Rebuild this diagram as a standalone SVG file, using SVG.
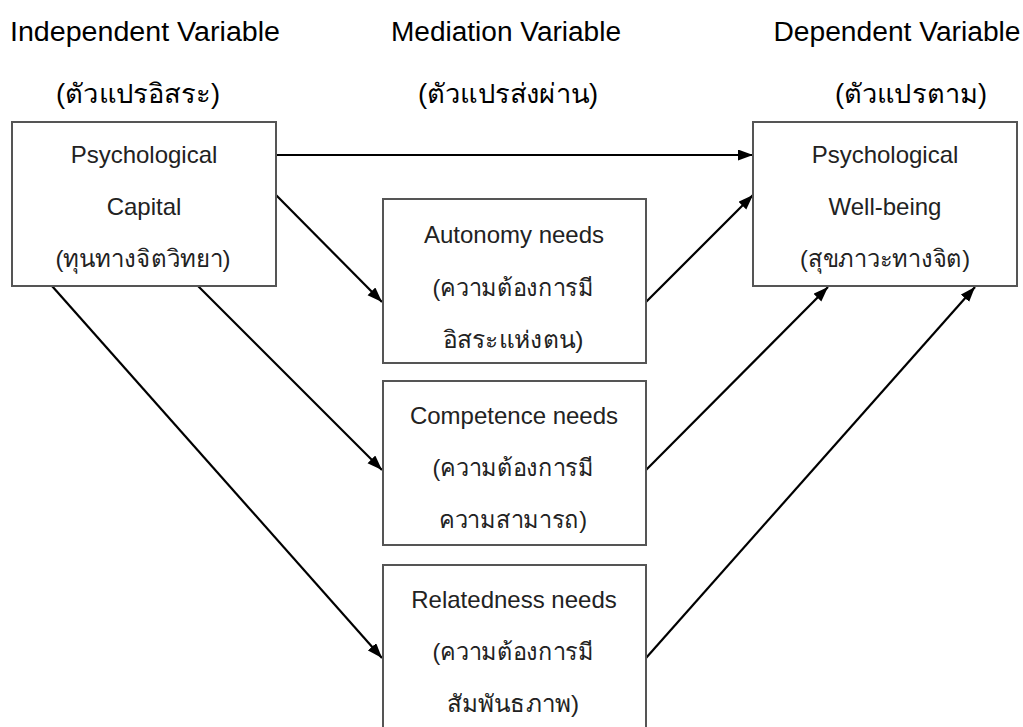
<svg xmlns="http://www.w3.org/2000/svg" width="1023" height="727" viewBox="0 0 1023 727">
<style>
.box{fill:#fff;stroke:#555;stroke-width:2}
.hd{font-family:"Liberation Sans","Noto Sans",sans-serif;font-size:27px;fill:#000;text-anchor:middle}
.bt{font-family:"Liberation Sans","Noto Sans",sans-serif;font-size:24px;fill:#222;text-anchor:middle}
.ln{stroke:#000;stroke-width:2.2;fill:none;marker-end:url(#ah)}
</style>
<defs>
<marker id="ah" markerUnits="userSpaceOnUse" markerWidth="16" markerHeight="12" refX="15" refY="5.5" orient="auto">
<path d="M0,0 L15,5.5 L0,11 Z" fill="#000"/>
</marker>
</defs>
<rect width="1023" height="727" fill="#fff"/>
<g id="headers">
<text class="hd" x="145" y="41" textLength="270" lengthAdjust="spacingAndGlyphs">Independent Variable</text>
<text class="hd" x="138" y="103" textLength="164" lengthAdjust="spacingAndGlyphs">(ตัวแปรอิสระ)</text>
<text class="hd" x="506" y="41" textLength="230" lengthAdjust="spacingAndGlyphs">Mediation Variable</text>
<text class="hd" x="508" y="103" textLength="180" lengthAdjust="spacingAndGlyphs">(ตัวแปรส่งผ่าน)</text>
<text class="hd" x="897" y="41" textLength="247" lengthAdjust="spacingAndGlyphs">Dependent Variable</text>
<text class="hd" x="911" y="103" textLength="152" lengthAdjust="spacingAndGlyphs">(ตัวแปรตาม)</text>
</g>
<g id="connectors">
<line class="ln" x1="276" y1="155" x2="753" y2="155"/>
<line class="ln" x1="276" y1="195" x2="382" y2="302"/>
<line class="ln" x1="646" y1="302" x2="753" y2="195"/>
<line class="ln" x1="198" y1="286" x2="382" y2="470"/>
<line class="ln" x1="52" y1="286" x2="382" y2="658"/>
<line class="ln" x1="646" y1="470" x2="828" y2="287"/>
<line class="ln" x1="646" y1="658" x2="975" y2="287"/>
</g>
<g id="psycap">
<rect class="box" x="12" y="122" width="264" height="164"/>
<text class="bt" x="144" y="163">Psychological</text>
<text class="bt" x="144" y="215">Capital</text>
<text class="bt" x="143" y="267" textLength="175" lengthAdjust="spacingAndGlyphs">(ทุนทางจิตวิทยา)</text>
</g>
<g id="pwb">
<rect class="box" x="753" y="122" width="264" height="164"/>
<text class="bt" x="885" y="163">Psychological</text>
<text class="bt" x="885" y="215">Well-being</text>
<text class="bt" x="885" y="267" textLength="170" lengthAdjust="spacingAndGlyphs">(สุขภาวะทางจิต)</text>
</g>
<g id="autonomy">
<rect class="box" x="383" y="199" width="263" height="164"/>
<text class="bt" x="514" y="243">Autonomy needs</text>
<text class="bt" x="513" y="296" textLength="161" lengthAdjust="spacingAndGlyphs">(ความต้องการมี</text>
<text class="bt" x="513" y="348" textLength="141" lengthAdjust="spacingAndGlyphs">อิสระแห่งตน)</text>
</g>
<g id="competence">
<rect class="box" x="383" y="381" width="263" height="164"/>
<text class="bt" x="514" y="424">Competence needs</text>
<text class="bt" x="513" y="476" textLength="161" lengthAdjust="spacingAndGlyphs">(ความต้องการมี</text>
<text class="bt" x="513" y="528" textLength="148" lengthAdjust="spacingAndGlyphs">ความสามารถ)</text>
</g>
<g id="relatedness">
<rect class="box" x="383" y="565" width="263" height="180"/>
<text class="bt" x="514" y="608">Relatedness needs</text>
<text class="bt" x="513" y="660" textLength="161" lengthAdjust="spacingAndGlyphs">(ความต้องการมี</text>
<text class="bt" x="513" y="712" textLength="132" lengthAdjust="spacingAndGlyphs">สัมพันธภาพ)</text>
</g>
</svg>
